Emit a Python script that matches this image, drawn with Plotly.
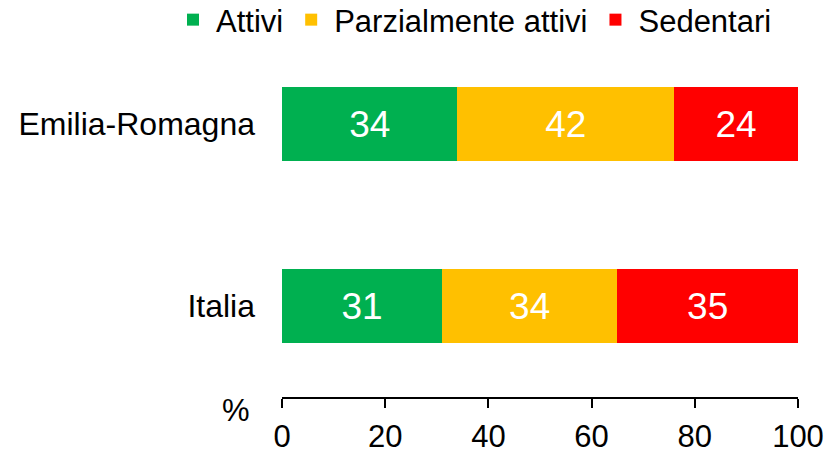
import plotly.graph_objects as go

categories = ["Italia", "Emilia-Romagna"]
series_names = ["Attivi", "Parzialmente attivi", "Sedentari"]
attivi = [31, 34]
parziali = [34, 42]
sedentari = [35, 24]
colors = ["#00B050", "#FFC000", "#FF0000"]
x_ticks = [0, 20, 40, 60, 80, 100]

FONT = "Liberation Sans, Arial, sans-serif"
OFF = 8  # default page body margin

fig = go.Figure()
for name, vals, col in zip(series_names, [attivi, parziali, sedentari], colors):
    fig.add_trace(go.Bar(
        y=categories, x=vals, name=name, orientation="h",
        marker=dict(color=col, line=dict(width=0)),
        width=0.407,
        text=[str(v) for v in vals], textposition="inside",
        insidetextanchor="middle",
        textfont=dict(color="white", size=37, family=FONT),
        hoverinfo="skip",
    ))

PW = 516
PH = 364
fig.update_layout(
    barmode="stack",
    width=839 - OFF, height=449 - OFF,
    margin=dict(l=282 - OFF, r=41, t=33 - OFF, b=52, autoexpand=False),
    paper_bgcolor="white", plot_bgcolor="white",
    font=dict(family=FONT, color="black"),
    showlegend=True,
    legend=dict(orientation="h", x=(170 - 282) / PW, xanchor="left",
                y=1 + (33 - 20) / PH, yanchor="middle",
                font=dict(size=31), traceorder="normal", itemwidth=36,
                tracegroupgap=0, bgcolor="rgba(0,0,0,0)"),
    uniformtext=dict(minsize=10, mode="show"),
)
fig.update_xaxes(range=[0, 100], tickvals=x_ticks, showgrid=False, zeroline=False,
                 showline=True, linecolor="black", linewidth=1.5,
                 ticks="outside", ticklen=9, tickwidth=1.5, tickcolor="black",
                 tickfont=dict(size=31), ticklabelstandoff=2, automargin=False)
fig.update_yaxes(range=[-0.5, 1.5], showgrid=False, zeroline=False, showline=False,
                 ticks="", tickfont=dict(size=32), ticklabelstandoff=26, automargin=False)
fig.add_annotation(text="%", xref="paper", yref="paper",
                   x=(236 - 282) / PW, y=-13 / PH, xanchor="center", yanchor="middle",
                   showarrow=False, font=dict(size=31))
fig.write_html("out.html")
